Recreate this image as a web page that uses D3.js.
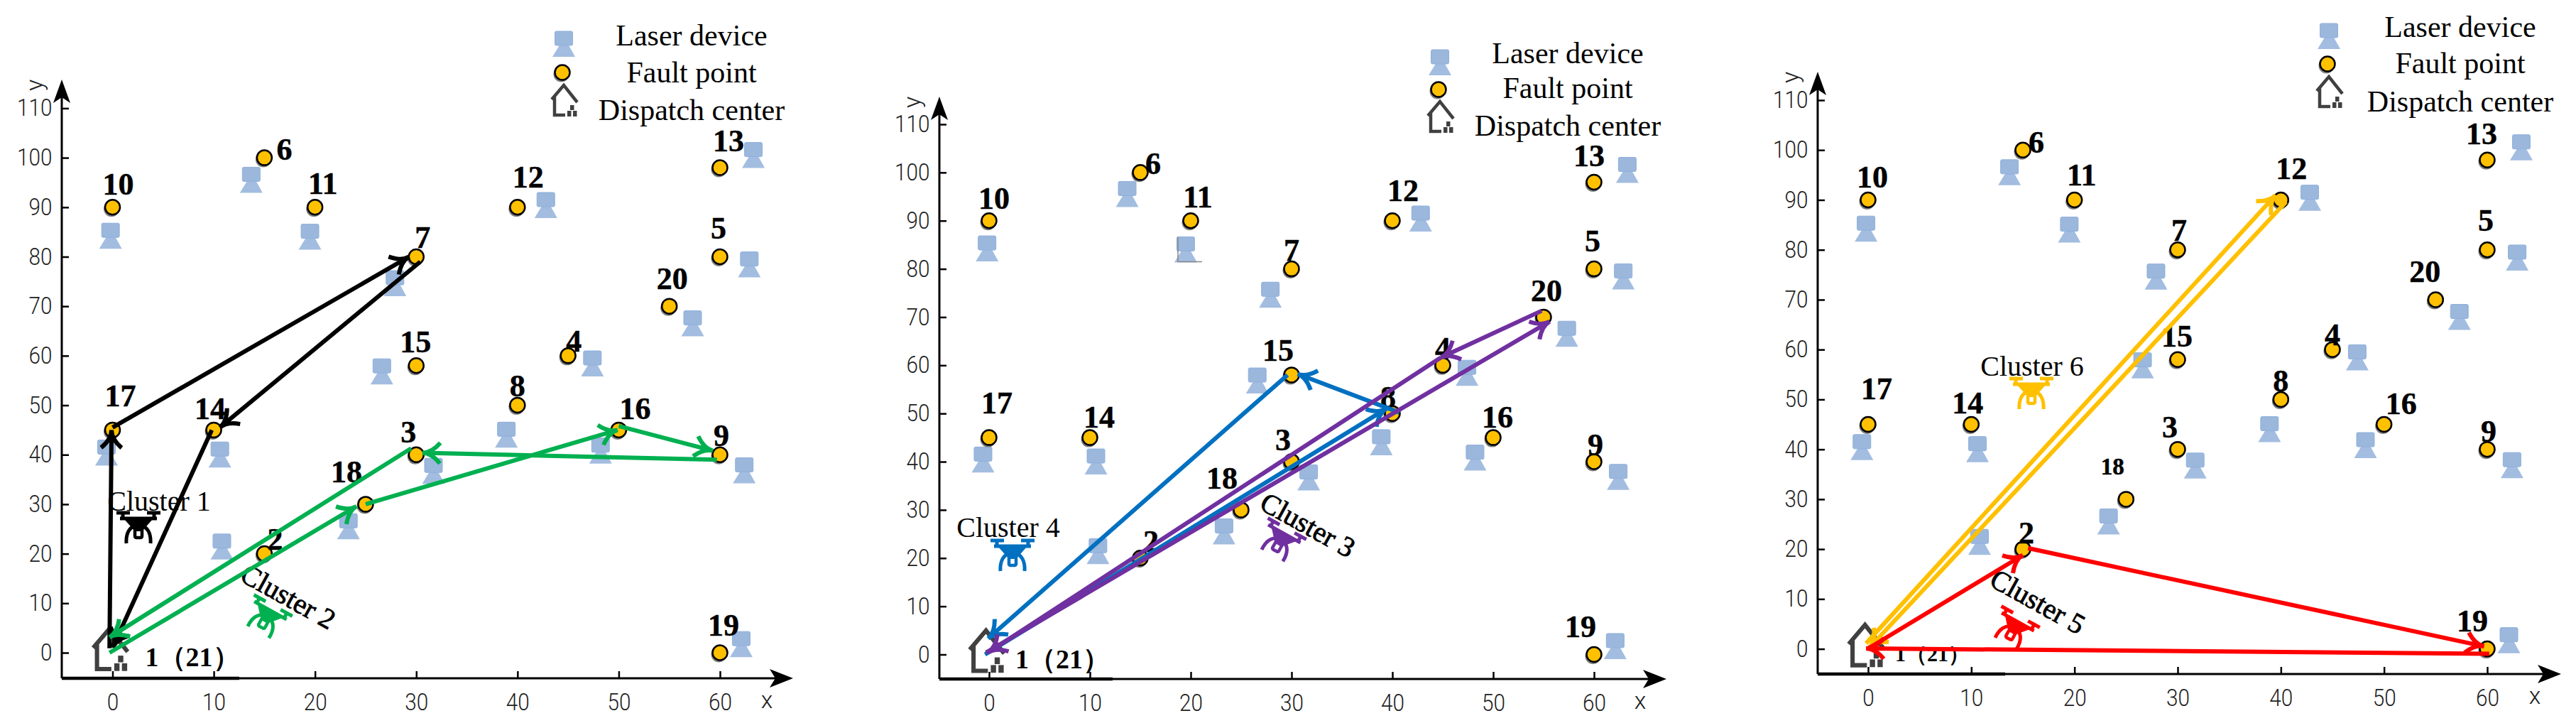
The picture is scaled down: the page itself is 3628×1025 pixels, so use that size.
<!DOCTYPE html>
<html>
<head>
<meta charset="utf-8">
<title>Cluster routes</title>
<script src="https://cdnjs.cloudflare.com/ajax/libs/d3/7.8.5/d3.min.js"></script>
<style>
  body { margin: 0; background: #fff; }
  svg { display: block; }
  .serif { font-family: "Liberation Serif", serif; fill: #000; }
  .tick text { font-family: "Roboto", sans-serif; font-weight: 300; font-size: 33px; fill: #222; }
</style>
</head>
<body>
<svg id="chart" width="3628" height="1025"></svg>
<script>
// fault points, id / x / y
var pointIds = [2, 3, 4, 5, 6, 7, 8, 9, 10, 11, 12, 13, 14, 15, 16, 17, 18, 19, 20];
var pointX = [15, 30, 45, 60, 15, 30, 40, 60, 0, 20, 40, 60, 10, 30, 50, 0, 25, 60, 55];
var pointY = [20, 40, 60, 80, 100, 80, 50, 40, 90, 90, 90, 98, 45, 58, 45, 45, 30, 0, 70];

// laser devices
var laserX = [-0.2, 13.7, 19.5, 42.8, 63.3, 62.9, 57.3, 47.4, 27.9, 26.6, 38.9, 48.2, 31.7, 62.4, -0.6, 10.6, 10.8, 23.3, 62.1];
var laserY = [84.2, 95.5, 84, 90.4, 100.5, 78.4, 66.5, 58.4, 74.6, 56.8, 44, 40.8, 36.7, 36.8, 40.4, 40, 21.4, 25.5, 1.7];

var xTicks = [0, 10, 20, 30, 40, 50, 60];
var yTicks = [0, 10, 20, 30, 40, 50, 60, 70, 80, 90, 100, 110];
var legendLabels = ["Laser device", "Fault point", "Dispatch center"];
var depotLabel = "1\uFF0821\uFF09";

// routes, each leg is [x1, y1, x2, y2]
var cluster1Route = [[-0.3, 0.9, -0.1, 45], [0, 45.5, 29.3, 80], [30.4, 79, 10.6, 45.5], [9.8, 45, 0, 1]];
var cluster2Route = [[-0.3, 0, 24.1, 29.6], [25, 30, 49.9, 45], [50, 45.8, 59.3, 40.8], [59.7, 39, 30.6, 40.4], [29.5, 41.3, -0.3, 3.1]];
var cluster3Route = [[-0.3, 0.4, 55.6, 69.1], [54.8, 71.3, 44.8, 61.6], [44.8, 61.6, -0.1, 0.4]];
var cluster4Route = [[-0.4, 0, 39.4, 51], [40.7, 50.2, 30.6, 58.2], [29.6, 58, -0.1, 3.3]];
var cluster5Route = [[0.1, 0.2, 15, 18.8], [15.5, 20.2, 59.7, 0.5], [60.2, -1, -0.2, 0.1]];
var cluster6Route = [[-0.2, 1.1, 39.5, 91], [40.5, 89.6, 0.1, 0.2]];

// label offsets from the point, in the order of pointIds
var labelOffsets1 = [[15,-20],[-11,-32],[8,-20],[-2,-40],[28,-12],[9,-27],[0,-27],[2,-27],[8,-32],[11,-33],[15,-42],[12,-38],[-5,-30],[-1,-33],[23,-30],[11,-48],[-27,-45],[5,-39],[4,-39]];
var labelOffsets2 = [[15,-23],[-12,-31],[0,-24],[-2,-39],[18,-12],[0,-26],[-6,-23],[2,-24],[7,-31],[10,-33],[15,-42],[-7,-37],[13,-29],[-19,-34],[6,-29],[11,-49],[-27,-44],[-19,-39],[4,-37]];
var labelOffsets3 = [[5,-23],[-11,-31],[0,-21],[-2,-41],[19,-11],[2,-27],[0,-26],[2,-25],[6,-32],[10,-35],[15,-44],[-8,-37],[-5,-30],[-1,-33],[24,-29],[12,-50],[-19,-46],[-21,-39],[-15,-39]];

var panels = [
  { x0: 158.5, x60: 1014, y0: 919, y110: 152.4, axisLeft: 87, axisRight: 1117, axisBottom: 955, axisTop: 112, thickTo: 337,
    labels: labelOffsets1, depotFont: 38, depotX: 46, depotY: 6,
    legendText: 974, legendY: [50, 102, 155], legendIcon: 794, legendIconY: [62, 102, 142],
    clusters: [
      { route: cluster1Route, color: "#000000", name: "Cluster 1", lx: 224, ly: 705, rot: 0, dx: 195, dy: 742 },
      { route: cluster2Route, color: "#00B050", name: "Cluster 2", lx: 406, ly: 840, rot: 29, dx: 375, dy: 870 }
    ] },
  { x0: 1393, x60: 2245, y0: 921.5, y110: 175, axisLeft: 1323, axisRight: 2347, axisBottom: 956, axisTop: 136, thickTo: 1567,
    labels: labelOffsets2, depotFont: 38, depotX: 37, depotY: 6,
    legendText: 2208, legendY: [75, 124, 177], legendIcon: 2028, legendIconY: [88, 126, 165],
    clusters: [
      { route: cluster4Route, color: "#0070C0", name: "Cluster 4", lx: 1420, ly: 742, rot: 0, dx: 1426, dy: 781 },
      { route: cluster3Route, color: "#7030A0", name: "Cluster 3", lx: 1842, ly: 739, rot: 29, dx: 1803, dy: 762 }
    ] },
  { x0: 2631, x60: 3503, y0: 913.6, y110: 141, axisLeft: 2560, axisRight: 3607, axisBottom: 949, axisTop: 101, thickTo: 2824,
    labels: labelOffsets3, depotFont: 30, depotX: 38, depotY: 7,
    legendText: 3465, legendY: [38, 89, 143], legendIcon: 3280, legendIconY: [51, 90, 130],
    clusters: [
      { route: cluster6Route, color: "#FFC000", name: "Cluster 6", lx: 2862, ly: 515, rot: 0, dx: 2861, dy: 553 },
      { route: cluster5Route, color: "#FF0000", name: "Cluster 5", lx: 2870, ly: 847, rot: 29, dx: 2836, dy: 886 }
    ] }
];

var svg = d3.select("#chart");

function drawLaser(g, px, py) {
  var icon = g.append("g").attr("transform", "translate(" + px + "," + py + ")");
  icon.append("path").attr("d", "M-5,0 L6,0 L16,18 L-16,18 Z").attr("fill", "#A3BDE0");
  icon.append("rect").attr("x", -12.5).attr("y", -18).attr("width", 25).attr("height", 20).attr("rx", 2)
    .attr("fill", "#9BB7DC").attr("stroke", "#8FB0DD").attr("stroke-width", 1);
}

function drawFault(g, px, py) {
  g.append("circle").attr("cx", px - 1.5).attr("cy", py + 2.5).attr("r", 11).attr("fill", "#7f7f7f");
  g.append("circle").attr("cx", px).attr("cy", py).attr("r", 10.5)
    .attr("fill", "#FFC000").attr("stroke", "#000").attr("stroke-width", 2.5);
}

function drawHouse(g, px, py, s) {
  var icon = g.append("g").attr("transform", "translate(" + px + "," + py + ") scale(" + s + ")");
  icon.append("path").attr("d", "M-18,-2 L-1,-22 L18,2 M-14,-7 L-14,20 L1,20")
    .attr("fill", "none").attr("stroke", "#404040").attr("stroke-width", 4.5);
  icon.append("rect").attr("x", 4).attr("y", 14).attr("width", 5.5).attr("height", 8).attr("fill", "#404040");
  icon.append("rect").attr("x", 12).attr("y", 14).attr("width", 5.5).attr("height", 8).attr("fill", "#404040");
  icon.append("rect").attr("x", 8).attr("y", 6).attr("width", 5.5).attr("height", 7).attr("fill", "#404040");
}

function drawDrone(g, px, py, rot, color) {
  var icon = g.append("g").attr("transform", "translate(" + px + "," + py + ") rotate(" + rot + ")");
  icon.append("path")
    .attr("d", "M-31,-20 L-12,-20 M12,-20 L31,-20 M-22,-20 L-22,-14 M22,-20 L22,-14 M-26,-12 L26,-12")
    .attr("fill", "none").attr("stroke", color).attr("stroke-width", 5);
  icon.append("path").attr("d", "M-20,-11 L20,-11 L5,6 L-5,6 Z").attr("fill", color);
  icon.append("rect").attr("x", -5).attr("y", 0).attr("width", 10).attr("height", 15).attr("rx", 2)
    .attr("fill", "none").attr("stroke", color).attr("stroke-width", 4.5);
  icon.append("path").attr("d", "M-17,23 C-18,8 -12,0 -4,-2 M17,23 C18,8 12,0 4,-2")
    .attr("fill", "none").attr("stroke", color).attr("stroke-width", 5);
}

function drawRouteLeg(g, leg, x, y, color) {
  var x1 = x(leg[0]), y1 = y(leg[1]), x2 = x(leg[2]), y2 = y(leg[3]);
  var ang = Math.atan2(y2 - y1, x2 - x1);
  var barb = 29, spread = Math.PI / 6;
  var p = d3.path();
  p.moveTo(x1, y1);
  p.lineTo(x2, y2);
  [ang - spread, ang + spread].forEach(function (a) {
    // barbs bow a little toward the line, as drawn by hand
    p.moveTo(x2 - barb * Math.cos(a), y2 - barb * Math.sin(a));
    p.quadraticCurveTo(x2 - 0.45 * barb * Math.cos(ang), y2 - 0.45 * barb * Math.sin(ang), x2, y2);
  });
  g.append("path").attr("d", p.toString()).attr("fill", "none")
    .attr("stroke", color).attr("stroke-width", 6).attr("stroke-linejoin", "miter");
}

panels.forEach(function (panel, idx) {
  var g = svg.append("g");
  var x = d3.scaleLinear().domain([0, 60]).range([panel.x0, panel.x60]);
  var y = d3.scaleLinear().domain([0, 110]).range([panel.y0, panel.y110]);

  // axes
  var xAxis = d3.axisBottom(x).tickValues(xTicks).tickSize(-10).tickPadding(22).tickFormat(d3.format("d"));
  var yAxis = d3.axisLeft(y).tickValues(yTicks).tickSize(-10).tickPadding(15).tickFormat(d3.format("d"));
  var gx = g.append("g").attr("transform", "translate(0," + panel.axisBottom + ")").call(xAxis);
  var gy = g.append("g").attr("transform", "translate(" + panel.axisLeft + ",0)").call(yAxis);
  gx.select(".domain").remove();
  gy.select(".domain").remove();
  g.selectAll(".tick line").attr("stroke", "#000").attr("stroke-width", 2.5);
  g.selectAll(".tick text").attr("transform", "scale(0.9,1)");

  g.append("line").attr("x1", panel.axisLeft).attr("x2", panel.axisRight - 25)
    .attr("y1", panel.axisBottom).attr("y2", panel.axisBottom).attr("stroke", "#000").attr("stroke-width", 3);
  g.append("line").attr("x1", panel.axisLeft).attr("x2", panel.thickTo)
    .attr("y1", panel.axisBottom).attr("y2", panel.axisBottom).attr("stroke", "#000").attr("stroke-width", 4.5);
  g.append("line").attr("x1", panel.axisLeft).attr("x2", panel.axisLeft)
    .attr("y1", panel.axisBottom).attr("y2", panel.axisTop + 25).attr("stroke", "#000").attr("stroke-width", 3);

  // arrow tips of the axes
  g.append("path").attr("transform", "translate(" + panel.axisRight + "," + panel.axisBottom + ")")
    .attr("d", "M0,0 L-33,-13 L-25,0 L-33,13 Z").attr("fill", "#000");
  g.append("path").attr("transform", "translate(" + panel.axisLeft + "," + panel.axisTop + ")")
    .attr("d", "M0,0 L-12,33 L0,25 L12,33 Z").attr("fill", "#000");

  g.append("text").attr("x", panel.axisRight - 37).attr("y", panel.axisBottom + 42)
    .attr("text-anchor", "middle").attr("font-family", "Roboto").attr("font-weight", 300).attr("font-size", 34).attr("fill", "#222").text("x");
  g.append("text").attr("transform", "translate(" + (panel.axisLeft - 27) + "," + (panel.axisTop + 8) + ") rotate(-90)")
    .attr("text-anchor", "middle").attr("font-family", "Roboto").attr("font-weight", 300).attr("font-size", 34).attr("fill", "#222").text("y");

  // devices and fault points
  laserX.forEach(function (lx, i) { drawLaser(g, x(lx), y(laserY[i])); });
  pointIds.forEach(function (id, i) { drawFault(g, x(pointX[i]), y(pointY[i])); });
  pointIds.forEach(function (id, i) {
    var off = panel.labels[i];
    g.append("text").attr("class", "serif").attr("x", x(pointX[i]) + off[0]).attr("y", y(pointY[i]) + off[1])
      .attr("text-anchor", "middle").attr("dominant-baseline", "central")
      .attr("font-size", (idx == 2 && id == 18) ? 33 : 44).attr("font-weight", "bold")
      .attr("stroke", "#000").attr("stroke-width", 0.5).text(id);
  });

  // dispatch center
  drawHouse(g, x(0) - 3, y(0) - 4, 1.35);
  g.append("text").attr("class", "serif").attr("x", x(0) + panel.depotX).attr("y", y(0) + panel.depotY)
    .attr("dominant-baseline", "central").attr("font-size", panel.depotFont).attr("font-weight", "bold")
    .attr("font-family", "Liberation Serif, Noto Sans CJK SC").text(depotLabel);

  // legend
  drawLaser(g, panel.legendIcon, panel.legendIconY[0]);
  drawFault(g, panel.legendIcon - 2, panel.legendIconY[1]);
  drawHouse(g, panel.legendIcon + 1, panel.legendIconY[2], 1);
  legendLabels.forEach(function (t, i) {
    g.append("text").attr("class", "serif").attr("x", panel.legendText).attr("y", panel.legendY[i])
      .attr("text-anchor", "middle").attr("dominant-baseline", "central").attr("font-size", 42).text(t);
  });

  // stray frame next to one laser in the middle panel
  if (idx == 1) {
    g.append("path").attr("d", "M" + (x(20) - 18) + "," + (y(84) - 18) + " v35 h34")
      .attr("fill", "none").attr("stroke", "#888").attr("stroke-width", 1.5);
  }

  // clusters
  panel.clusters.forEach(function (c) {
    var label = g.append("text").attr("class", "serif")
      .attr("transform", "translate(" + c.lx + "," + c.ly + ") rotate(" + c.rot + ")")
      .attr("text-anchor", "middle").attr("dominant-baseline", "central").attr("font-size", 40).text(c.name);
    if (c.rot != 0) label.attr("stroke", "#000").attr("stroke-width", 0.8);
    drawDrone(g, c.dx, c.dy, c.rot, c.color);
  });
  panel.clusters.forEach(function (c) {
    c.route.forEach(function (leg) { drawRouteLeg(g, leg, x, y, c.color); });
  });
});
</script>
</body>
</html>
